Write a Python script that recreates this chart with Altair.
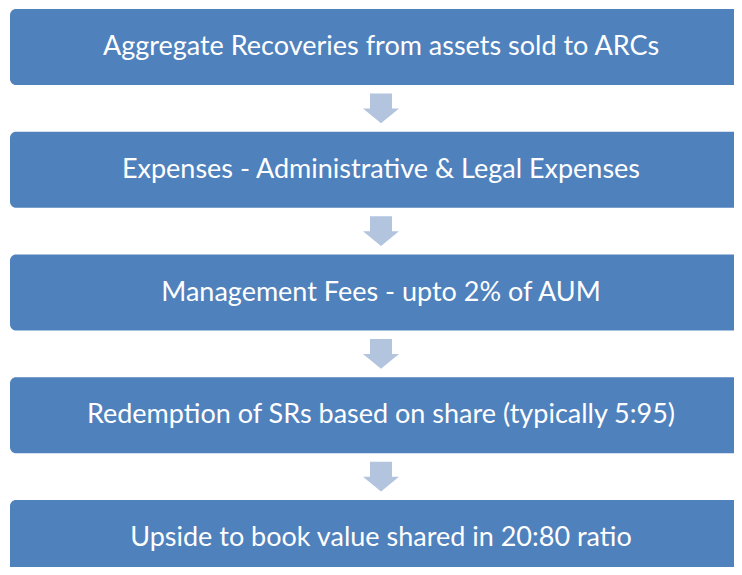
import altair as alt
import pandas as pd

labels = [
    "Aggregate Recoveries from  assets  sold to ARCs",
    "Expenses - Administrative & Legal Expenses",
    "Management Fees - upto 2% of AUM",
    "Redemption of SRs based on share (typically 5:95)",
    "Upside to book value shared in 20:80 ratio",
]
steps = list(range(len(labels)))
arrow_steps = [s + 0.5 for s in steps[:-1]]

boxes = pd.DataFrame({"step": steps, "label": labels})
arrows = pd.DataFrame({"pos": arrow_steps})

W, H = 726, 559
yscale = alt.Scale(domain=[-39 / 122.75, (H - 39) / 122.75], reverse=True, nice=False, zero=False)

base_box = alt.Chart(boxes).transform_calculate(
    top="datum.step - 0.31", bot="datum.step + 0.31"
)

rects = base_box.mark_rect(color="#4F81BD", cornerRadius=6).encode(
    x=alt.value(2),
    x2=alt.value(745),
    y=alt.Y("top:Q", scale=yscale, axis=None),
    y2="bot:Q",
)

texts = alt.Chart(boxes).mark_text(
    color="white", font="Lato", fontSize=27, fontWeight="normal", align="center", baseline="middle"
).encode(
    x=alt.value(373),
    y=alt.Y("step:Q", scale=yscale, axis=None),
    text="label:N",
)

arrow_path = "M -0.611 -0.833 L 0.611 -0.833 L 0.611 0 L 1 0 L 0 0.833 L -1 0 L -0.611 0 Z"
arrow_marks = alt.Chart(arrows).mark_point(
    shape=arrow_path, filled=True, color="#B3C4DF", size=1296, opacity=1, strokeWidth=0
).encode(
    x=alt.value(373),
    y=alt.Y("pos:Q", scale=yscale, axis=None),
)

chart = alt.layer(rects, arrow_marks, texts).properties(
    width=W, height=H, padding=0, autosize=alt.AutoSizeParams(type="none")
).configure_view(stroke=None)

chart.save("out.html", embed_options={"renderer": "svg", "actions": False})
